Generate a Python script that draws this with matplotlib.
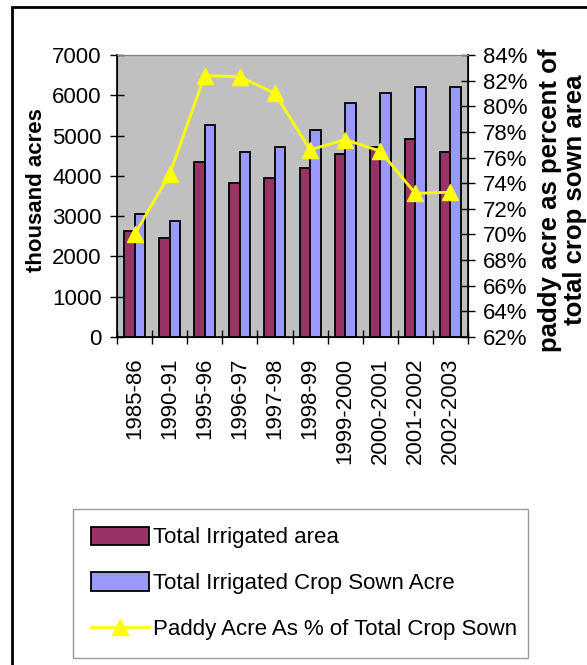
import numpy as np
import matplotlib
matplotlib.use("Agg")
import matplotlib.pyplot as plt
from matplotlib.patches import Patch, Rectangle
from matplotlib.lines import Line2D
from matplotlib.ticker import FuncFormatter, FixedLocator

# data
years = ['1985-86', '1990-91', '1995-96', '1996-97', '1997-98',
         '1998-99', '1999-2000', '2000-2001', '2001-2002', '2002-2003']
irrigated = [2620, 2450, 4355, 3820, 3950, 4190, 4545, 4710, 4910, 4600]
crop_sown = [3050, 2870, 5265, 4600, 4725, 5140, 5810, 6050, 6215, 6215]
paddy_pct = [70.0, 74.7, 82.4, 82.3, 81.0, 76.6, 77.4, 76.5, 73.2, 73.3]

plt.rcParams.update({
    'font.family': ['Liberation Sans', 'DejaVu Sans'],
    'font.size': 16,
})

MAROON = '#993366'
LILAC = '#9999FF'
YELLOW = '#FFFF00'
PLOT_BG = '#C0C0C0'

fig = plt.figure(figsize=(5.87, 6.65), dpi=100)
ax = fig.add_axes([0.1993, 0.4932, 0.598, 0.4241])
ax.set_facecolor(PLOT_BG)

x = np.arange(len(years))
w = 0.3
ax.bar(x - w / 2, irrigated, width=w, color=MAROON, edgecolor='black', linewidth=1.3, zorder=2)
ax.bar(x + w / 2, crop_sown, width=w, color=LILAC, edgecolor='black', linewidth=1.3, zorder=2)

ax.set_xlim(-0.5, len(years) - 0.5)
ax.set_ylim(0, 7000)
ax.set_yticks(np.arange(0, 7001, 1000))
ax.tick_params(axis='y', direction='inout', length=10, width=1, pad=6, labelsize=16)

# category boundaries as ticks, labels at centres
ax.set_xticks(x)
ax.set_xticklabels(years, rotation=90, fontsize=16)
ax.xaxis.set_minor_locator(FixedLocator(np.arange(-0.5, len(years), 1)))
ax.tick_params(axis='x', which='major', length=0, pad=15)
ax.tick_params(axis='x', which='minor', direction='inout', length=10, width=1)

ax.spines['top'].set_color('#808080')
ax.spines['left'].set_linewidth(1.2)
ax.spines['bottom'].set_linewidth(1.2)
ax.set_ylabel('thousand acres', fontsize=16, fontweight='bold')
ax.yaxis.set_label_coords(-0.20, 0.52)

ax2 = ax.twinx()
ax2.plot(x, paddy_pct, color=YELLOW, linewidth=2, marker='^', markersize=11,
         markerfacecolor=YELLOW, markeredgecolor=YELLOW, zorder=5)
ax2.set_ylim(62, 84)
ax2.set_yticks(np.arange(62, 85, 2))
ax2.yaxis.set_major_formatter(FuncFormatter(lambda v, p: f'{v:.0f}%'))
ax2.tick_params(axis='y', direction='inout', length=10, width=1, pad=6, labelsize=16)
ax2.spines['right'].set_linewidth(1.2)
ax2.spines['top'].set_color('#808080')

fig.text(0.958, 0.699, 'paddy acre as percent of\ntotal crop sown area', rotation=90,
         ha='center', va='center', fontsize=18.5, fontweight='bold', linespacing=1.05)

# legend
handles = [
    Patch(facecolor=MAROON, edgecolor='black', linewidth=1.3),
    Patch(facecolor=LILAC, edgecolor='black', linewidth=1.3),
    Line2D([0], [0], color=YELLOW, linewidth=2, marker='^', markersize=11,
           markerfacecolor=YELLOW, markeredgecolor=YELLOW),
]
labels = ['Total Irrigated area', 'Total Irrigated Crop Sown Acre',
          'Paddy Acre As % of Total Crop Sown']
leg = fig.legend(handles, labels, loc='lower left', bbox_to_anchor=(0.1244, 0.0105, 0.775, 0.2165),
                 mode='expand', borderaxespad=0, fontsize=16, frameon=True, fancybox=False,
                 handlelength=2.6, handleheight=0.9, labelspacing=1.08, borderpad=0.8,
                 handletextpad=0.2)
leg.get_frame().set_edgecolor('#808080')
leg.get_frame().set_linewidth(1)

# outer chart border
fig.patches.append(Rectangle((0.021, -0.05), 1.2, 1.04, transform=fig.transFigure,
                             fill=False, edgecolor='black', linewidth=2))

fig.savefig('out.png', dpi=100)
